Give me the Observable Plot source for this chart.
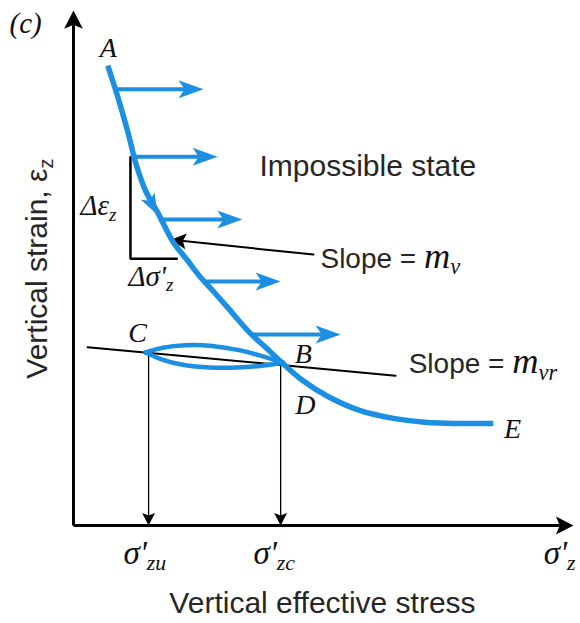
<!DOCTYPE html>
<html>
<head>
<meta charset="utf-8">
<script src="https://cdn.jsdelivr.net/npm/d3@7"></script>
<script src="https://cdn.jsdelivr.net/npm/@observablehq/plot@0.6"></script>
<style>
  html, body { margin: 0; padding: 0; background: white; }
</style>
</head>
<body>
<div id="chart"></div>
<script>
// ---------- data (abstract units 0..100) ----------
const curveStress = [6.8, 8.7, 10.7, 12.5, 14.3, 16.7, 19.8, 22.6, 25.2, 28.0, 30.6, 35.1, 38.1, 41.5, 45.0, 50.4, 56.9, 63.5, 70.2, 76.8, 83.3];
const curveStrain = [89.3, 83.5, 76.7, 69.9, 65.0, 60.8, 55.0, 51.5, 48.2, 45.2, 42.3, 37.3, 34.6, 31.5, 28.5, 25.1, 22.3, 20.8, 20.0, 19.8, 19.8];

const loopUpperStress = [14.3, 17.5, 22.0, 27.5, 33.0, 37.5, 41.6];
const loopUpperStrain = [33.6, 34.6, 35.1, 35.0, 34.1, 32.9, 31.6];
const loopLowerStress = [14.3, 17.0, 21.5, 27.0, 32.5, 37.5, 41.6];
const loopLowerStrain = [33.6, 32.3, 31.1, 30.6, 30.6, 31.0, 31.6];

const flowStrain = [84.7, 71.6, 59.4, 47.4, 37.1];
const flowFrom   = [8.7, 11.9, 16.9, 25.6, 35.1];
const flowTo     = [25.8, 28.6, 33.5, 41.1, 53.0];

const slopeVrStress = [2.8, 63.9];
const slopeVrStrain = [34.6, 29.1];

const slopeMvFrom = [47.6, 52.6];   // [stress, strain]
const slopeMvTo   = [19.3, 55.5];

const triStress = [11.3, 11.3, 20.5];
const triStrain = [71.5, 51.8, 51.8];

const dropStress = [14.9, 41.1];
const dropTop    = [33.6, 31.4];

const loadDirStress = 16.7, loadDirStrain = 60.3;

const axisEndStress = 99.2, axisEndStrain = 100;

const tickLabels = ["|σ'_zu", "|σ'_zc", "|σ'_z"];
const tickStress = [9.9, 35.7, 93.3];
const tickStrain = -5.4;

const pointNames  = ["A", "C", "B", "D", "E"];
const pointStress = [6.9, 12.7, 45.6, 46.0, 87.1];
const pointStrain = [92.7, 37.4, 33.3, 23.4, 18.8];

const deltaLabels = ["|Δε_z", "|Δσ'_z"];
const deltaStress = [1.4, 10.9];
const deltaStrain = [62.0, 48.4];

const slopeLabels = ["Slope = |m_v", "Slope = |m_vr"];
const slopeStress = [49.0, 66.5];
const slopeStrain = [51.8, 31.3];

const regionLabel = "Impossible state";
const regionStress = 36.9, regionStrain = 69.8;

const xTitle = "Vertical effective stress";
const yTitle = "Vertical strain, ε_z";
const panelLabel = "(c)";

// ---------- helpers ----------
const blue = "#1d8fe2";
const sans = "Liberation Sans, Arial, sans-serif";
const serif = "Liberation Serif, Times New Roman, serif";

function arrowSymbol(L, W, N) {
  return {
    draw(ctx, size) {
      const r = Math.sqrt(size / Math.PI);
      ctx.moveTo(0, 0);
      ctx.lineTo(-L * r, -W * r);
      ctx.lineTo(-(L - N) * r, 0);
      ctx.lineTo(-L * r, W * r);
      ctx.closePath();
    }
  };
}
const blueHead = arrowSymbol(2.5, 0.9, 0.6);
const blackHead = arrowSymbol(1.4, 0.72, 0.3);

const curve = curveStress.map((x, i) => ({x, y: curveStrain[i]}));
const loop = [
  ...loopUpperStress.map((x, i) => ({x, y: loopUpperStrain[i], b: "upper"})),
  ...loopLowerStress.map((x, i) => ({x, y: loopLowerStrain[i], b: "lower"}))
];
const flows = flowStrain.map((y, i) => ({x1: flowFrom[i], x2: flowTo[i], y}));
const slopeVr = slopeVrStress.map((x, i) => ({x, y: slopeVrStrain[i]}));
const tri = triStress.map((x, i) => ({x, y: triStrain[i]}));
const drops = dropStress.map((x, i) => ({x, y1: dropTop[i], y2: 0}));

const chart = Plot.plot({
  width: 580,
  height: 623,
  marginLeft: 73,
  marginRight: 3,
  marginTop: 10,
  marginBottom: 98,
  x: {domain: [0, 100], axis: null},
  y: {domain: [0, 100], axis: null},
  style: {background: "white", overflow: "visible"},
  marks: [
    // axes
    Plot.arrow([{x1: 0, y1: 0, x2: axisEndStress, y2: 0}], {x1: "x1", y1: "y1", x2: "x2", y2: "y2", headLength: 0, insetEnd: 8, stroke: "black", strokeWidth: 3, strokeLinecap: "butt"}),
    Plot.arrow([{x1: 0, y1: 0, x2: 0, y2: axisEndStrain}], {x1: "x1", y1: "y1", x2: "x2", y2: "y2", headLength: 0, insetEnd: 8, stroke: "black", strokeWidth: 3, strokeLinecap: "butt"}),
    Plot.dot([{x: axisEndStress, y: 0}], {x: "x", y: "y", symbol: blackHead, r: 12.5, fill: "black", stroke: "none", rotate: 0}),
    Plot.dot([{x: 0, y: axisEndStrain}], {x: "x", y: "y", symbol: blackHead, r: 13, fill: "black", stroke: "none", rotate: -90}),
    // drop lines to the stress axis
    Plot.arrow(drops, {x1: "x", y1: "y1", x2: "x", y2: "y2", headLength: 0, insetEnd: 6, stroke: "black", strokeWidth: 1.3}),
    Plot.dot(drops, {x: "x", y: "y2", symbol: blackHead, r: 9, fill: "black", stroke: "none", rotate: 90}),
    // slope m_vr line
    Plot.line(slopeVr, {x: "x", y: "y", stroke: "black", strokeWidth: 2}),
    // slope triangle
    Plot.line(tri, {x: "x", y: "y", stroke: "black", strokeWidth: 2.5, strokeLinejoin: "miter"}),
    // slope m_v pointer
    Plot.arrow([{x1: slopeMvFrom[0], y1: slopeMvFrom[1], x2: slopeMvTo[0], y2: slopeMvTo[1]}], {x1: "x1", y1: "y1", x2: "x2", y2: "y2", headLength: 0, insetEnd: 8, stroke: "black", strokeWidth: 2}),
    Plot.dot([{x: slopeMvTo[0], y: slopeMvTo[1]}], {x: "x", y: "y", symbol: blackHead, r: 11, fill: "black", stroke: "none", rotate: 186}),
    // unload-reload loop
    Plot.line(loop, {x: "x", y: "y", z: "b", stroke: blue, strokeWidth: 4.5, curve: "basis"}),
    // main compression curve
    Plot.line(curve, {x: "x", y: "y", stroke: blue, strokeWidth: 5.5, curve: "catmull-rom", strokeLinecap: "butt"}),
    Plot.dot([{x: loadDirStress, y: loadDirStrain}], {x: "x", y: "y", symbol: blueHead, r: 8.5, fill: blue, stroke: "none", rotate: 62}),
    // impossible-state arrows
    Plot.arrow(flows, {x1: "x1", y1: "y", x2: "x2", y2: "y", headLength: 0, insetEnd: 10, stroke: blue, strokeWidth: 4, strokeLinecap: "butt"}),
    Plot.dot(flows, {x: "x2", y: "y", symbol: blueHead, r: 10, fill: blue, stroke: "none"}),
    // texts
    Plot.text([regionLabel], {x: () => regionStress, y: () => regionStrain, text: d => d, textAnchor: "start", fontSize: 30, fontFamily: sans, fill: "#262626"}),
    Plot.text(slopeLabels, {x: (d, i) => slopeStress[i], y: (d, i) => slopeStrain[i], text: d => d, textAnchor: "start", fontSize: 28, fontFamily: sans, fill: "#262626"}),
    Plot.text(deltaLabels, {x: (d, i) => deltaStress[i], y: (d, i) => deltaStrain[i], text: d => d, textAnchor: "start", fontSize: 29, fontFamily: serif, fill: "#111"}),
    Plot.text(pointNames, {x: (d, i) => pointStress[i], y: (d, i) => pointStrain[i], text: d => d, textAnchor: "middle", fontSize: 28, fontFamily: serif, fontStyle: "italic", fill: "#111"}),
    Plot.text(tickLabels, {x: (d, i) => tickStress[i], y: () => tickStrain, text: d => d, textAnchor: "start", fontSize: 33, fontFamily: serif, fill: "#111"}),
    Plot.text([xTitle], {x: () => 49.4, y: () => -15.2, text: d => d, textAnchor: "middle", fontSize: 30, fontFamily: sans, fill: "#262626"}),
    Plot.text([yTitle], {x: () => -7.1, y: () => 28.5, text: d => d, textAnchor: "start", rotate: -90, fontSize: 30, fontFamily: sans, fill: "#262626"}),
    Plot.text([panelLabel], {x: () => -12.7, y: () => 97.4, text: d => d, textAnchor: "start", fontSize: 29, fontFamily: serif, fontStyle: "italic", fill: "#111"})
  ]
});

// rich text: "prefix|math_sub" -> tspans
function richText(svg) {
  const ns = "http://www.w3.org/2000/svg";
  svg.querySelectorAll("text").forEach(t => {
    const s = t.textContent;
    if (!/[|_]/.test(s)) return;
    const bar = s.indexOf("|");
    const pre = bar >= 0 ? s.slice(0, bar) : "";
    const rest = bar >= 0 ? s.slice(bar + 1) : s;
    const us = rest.indexOf("_");
    const base = us >= 0 ? rest.slice(0, us) : rest;
    const sub = us >= 0 ? rest.slice(us + 1) : "";
    while (t.firstChild) t.removeChild(t.firstChild);
    const add = (txt, attrs) => {
      const el = document.createElementNS(ns, "tspan");
      for (const k in attrs) el.setAttribute(k, attrs[k]);
      el.textContent = txt;
      t.appendChild(el);
    };
    if (pre) add(pre, {});
    const math = bar >= 0 ? {"font-family": serif, "font-style": "italic", "fill": "#111"} : {};
    const big = pre ? {"font-size": "1.3em"} : {};
    add(base, {...math, ...big});
    if (sub) add(sub, {...math, "font-size": pre ? "0.8em" : "0.66em", "dy": "0.3em"});
  });
}
richText(chart);
document.getElementById("chart").appendChild(chart);
</script>
</body>
</html>
